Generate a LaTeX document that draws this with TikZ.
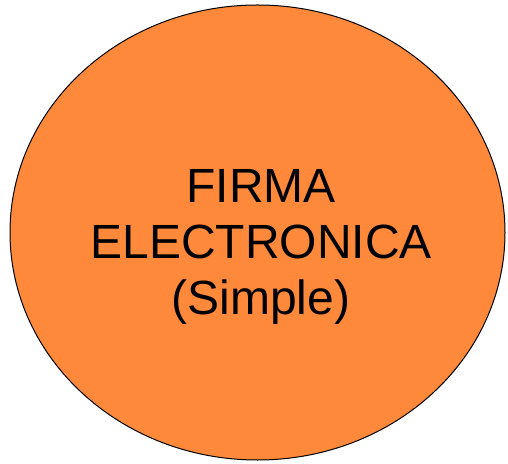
\documentclass[tikz,border=0pt]{standalone}
\usepackage{fontspec}
\setmainfont{Liberation Sans}
\definecolor{firmaorange}{HTML}{FE893A}
\tikzset{
  firmabubble/.style={draw=black, line width=1pt, fill=firmaorange},
  firmatext/.style={font=\fontsize{48}{56}\selectfont, align=center, inner sep=0pt}
}
\begin{document}
\begin{tikzpicture}[x=1pt,y=1pt]
  \useasboundingbox (0,0) rectangle (508,463);
  % the oval
  \draw[firmabubble] (257.5,230.5) ellipse [x radius=247.5, y radius=227.5];
  \node[firmatext] (firma) at (261,216) {FIRMA\\ELECTRONICA\\(Simple)};
\end{tikzpicture}
\end{document}
